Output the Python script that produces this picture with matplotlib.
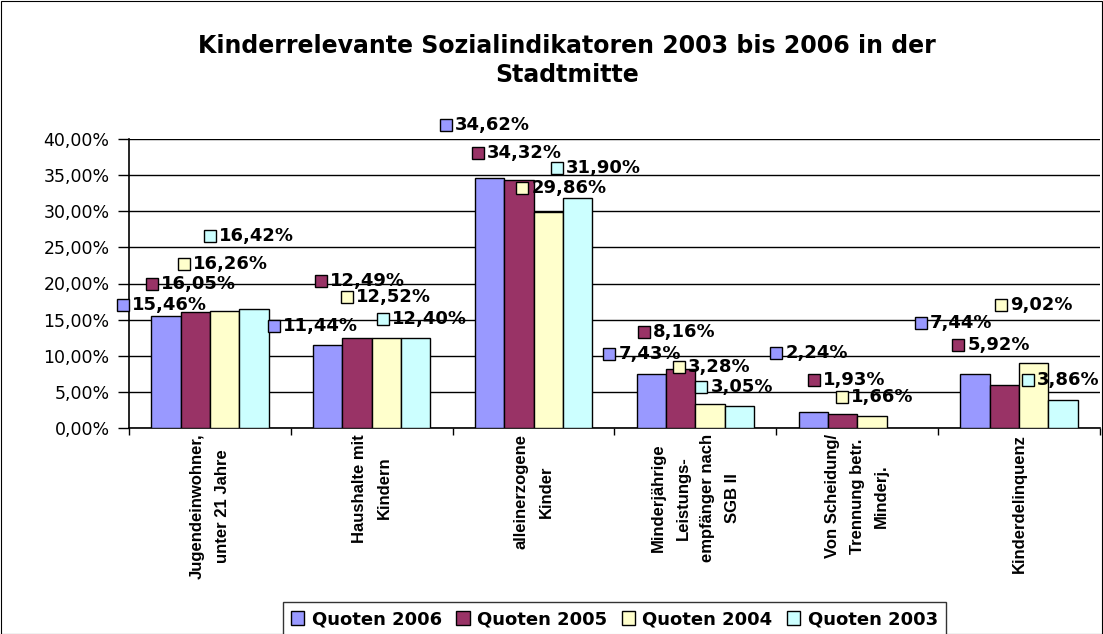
import numpy as np
import matplotlib
matplotlib.use("Agg")
import matplotlib.pyplot as plt
from matplotlib.transforms import offset_copy
from matplotlib.ticker import FuncFormatter, FixedLocator

categories = [
    "Jugendeinwohner,\nunter 21 Jahre",
    "Haushalte mit\nKindern",
    "alleinerzogene\nKinder",
    "Minderjährige\nLeistungs-\nempfänger nach\nSGB II",
    "Von Scheidung/\nTrennung betr.\nMinderj.",
    "Kinderdelinquenz",
]
series_names = ["Quoten 2006", "Quoten 2005", "Quoten 2004", "Quoten 2003"]
quoten_2006 = [15.46, 11.44, 34.62, 7.43, 2.24, 7.44]
quoten_2005 = [16.05, 12.49, 34.32, 8.16, 1.93, 5.92]
quoten_2004 = [16.26, 12.52, 29.86, 3.28, 1.66, 9.02]
quoten_2003 = [16.42, 12.40, 31.90, 3.05, np.nan, 3.86]
series = [quoten_2006, quoten_2005, quoten_2004, quoten_2003]
colors = ["#9999FF", "#993366", "#FFFFCC", "#CCFFFF"]

# label offsets (pixels) of the label key square from the bar top, per series/category
label_offsets = [
    [(-43, 11), (-54, 19), (-44, 53), (-42, 20), (-37, 59), (-54, 51)],
    [(-43, 28), (-36, 57), (-41, 27), (-37, 37), (-29, 34), (-46, 40)],
    [(-41, 47), (-39, 41), (-26, 24), (-31, 37), (-30, 19), (-33, 58)],
    [(-44, 73), (-33, 19), (-21, 30), (-38, 19), (0, 0), (-35, 20)],
]

fig = plt.figure(figsize=(11.03, 6.34), dpi=100)
ax = fig.add_axes([129 / 1103, 1 - 428 / 634, 971 / 1103, 289 / 634])

n = len(categories)
x = np.arange(n)
bw = 0.181
for j, (vals, c) in enumerate(zip(series, colors)):
    ax.bar(x + (j - 1.5) * bw, np.array(vals) / 100, width=bw, color=c,
           edgecolor="black", linewidth=1.0, label=series_names[j], zorder=3)

ax.set_xlim(-0.5, n - 0.5)
ax.set_ylim(0, 0.40)
ax.yaxis.set_major_locator(FixedLocator(np.arange(0, 0.401, 0.05)))
ax.yaxis.set_major_formatter(FuncFormatter(lambda v, p: f"{v*100:.2f}%".replace(".", ",")))
ax.grid(axis="y", color="black", linewidth=1.0, zorder=0)
ax.set_axisbelow(True)
for s in ["top", "right"]:
    ax.spines[s].set_visible(False)
ax.spines["left"].set_linewidth(1.2)
ax.spines["bottom"].set_linewidth(1.2)
ax.tick_params(axis="y", labelsize=12.5, length=8, width=1, direction="out", pad=6)
ax.set_xticks(np.arange(-0.5, n, 1.0))
ax.set_xticklabels([])
ax.tick_params(axis="x", length=5, width=1, direction="out")

for i, lab in enumerate(categories):
    ax.text(i, -0.008, lab, rotation=90, ha="center", va="top", multialignment="center",
            fontsize=12, fontweight="bold", family="Liberation Sans",
            transform=ax.transData, linespacing=1.8)

# data labels with key squares
for j, vals in enumerate(series):
    for i, v in enumerate(vals):
        if np.isnan(v):
            continue
        bx = i + (j - 1.5) * bw
        dx, dy = label_offsets[j][i]
        tr = offset_copy(ax.transData, fig=fig, x=dx, y=dy, units="dots")
        ax.plot([bx], [v / 100], marker="s", markersize=9, markerfacecolor=colors[j],
                markeredgecolor="black", markeredgewidth=1.0, transform=tr,
                clip_on=False, zorder=5)
        tr2 = offset_copy(ax.transData, fig=fig, x=dx + 9, y=dy, units="dots")
        ax.text(bx, v / 100, f"{v:.2f}%".replace(".", ","), transform=tr2,
                ha="left", va="center", fontsize=13, fontweight="bold", zorder=6,
                clip_on=False)

fig.text(0.514, 0.905, "Kinderrelevante Sozialindikatoren 2003 bis 2006 in der\nStadtmitte",
         ha="center", va="center", fontsize=17, fontweight="bold", linespacing=1.25)

leg = fig.legend(loc="lower center", bbox_to_anchor=(0.557, -0.018), ncol=4,
                 frameon=True, fancybox=False, edgecolor="black",
                 prop={"weight": "bold", "size": 13}, handlelength=0.75, handleheight=0.75,
                 handletextpad=0.4, columnspacing=0.8, borderpad=0.45)
leg.get_frame().set_linewidth(1.0)

fig.patches.append(plt.Rectangle((0.001, 0.0), 0.998, 0.998, transform=fig.transFigure,
                                 fill=False, edgecolor="black", linewidth=0.8))

fig.savefig("out.png", dpi=100)
